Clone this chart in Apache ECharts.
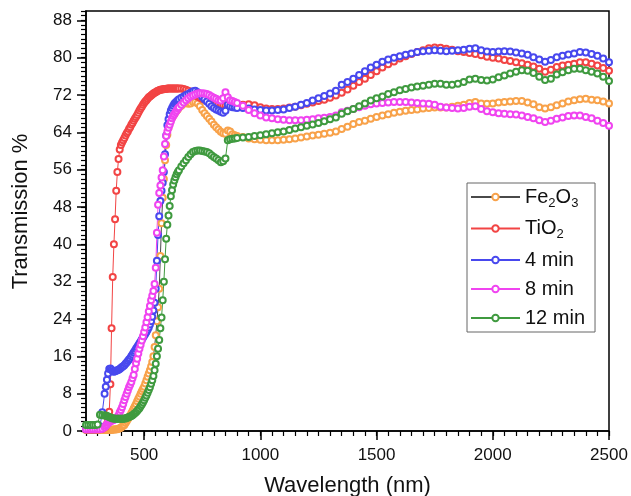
<!DOCTYPE html>
<html><head><meta charset="utf-8">
<script src="https://cdn.jsdelivr.net/npm/echarts@6/dist/echarts.min.js"></script>
<style>html,body{margin:0;padding:0;background:#fff}#c{width:631px;height:496px}</style>
</head><body><div id="c"></div>
<script>
const wavelength = [
250,260,270,280,290,300,310,320,330,
335,340,345,350,355,360,365,370,375,380,385,390,395,400,405,410,415,420,425,430,435,440,445,450,455,460,465,470,475,480,485,490,495,500,505,510,515,520,525,530,535,540,545,550,555,560,565,570,575,580,585,590,595,600,605,610,615,620,625,630,635,640,645,650,
660,670,680,690,700,710,720,730,740,750,760,770,780,790,800,810,820,830,840,850,860,870,880,890,900,
925,950,975,1000,1025,1050,1075,1100,1125,1150,1175,1200,1225,1250,1275,1300,1325,1350,1375,1400,1425,1450,1475,1500,1525,1550,1575,1600,1625,1650,1675,1700,1725,1750,1775,1800,1825,1850,1875,1900,1925,1950,1975,2000,2025,2050,2075,2100,2125,2150,2175,2200,2225,2250,2275,2300,2325,2350,2375,2400,2425,2450,2475,2500
];
const fe2o3 = [
0.2,0.2,0.2,0.2,0.2,0.2,0.2,0.2,0.2,
0.2,0.2,0.2,0.2,0.2,0.2,0.3,0.3,0.3,0.4,
0.4,0.5,0.6,0.7,0.9,1.1,1.3,1.7,2.1,2.5,
2.9,3.3,3.8,4.3,4.8,5.3,5.8,6.4,6.9,7.4,
8.0,8.5,9.0,9.5,10.2,10.9,11.6,12.3,13.0,13.8,
14.8,16.0,18.0,20.5,23.5,26.5,30.5,37.5,44.5,50.0,
54.0,58.0,61.3,63.5,65.0,65.9,66.6,67.1,67.5,67.9,
68.3,68.6,68.9,69.3,
69.7,70.1,70.5,70.1,70.2,70.5,70.5,70.2,69.6,68.8,68.1,67.5,66.9,66.3,65.6,65.1,64.6,64.1,63.8,63.7,64.4,64.2,63.6,63.4,63.2,
63.0,62.7,62.5,62.4,62.3,62.3,62.3,62.4,
62.5,62.7,62.9,63.1,63.3,63.5,63.7,63.9,
64.2,64.7,65.2,65.8,66.2,66.5,66.9,67.3,
67.6,67.9,68.2,68.4,68.6,68.8,68.9,69.1,
69.2,69.3,69.3,69.3,69.5,69.7,69.9,70.3,
70.5,70.2,70.1,70.2,70.4,70.5,70.6,70.7,
70.7,70.4,70.0,69.4,69.1,69.4,69.8,70.2,
70.6,70.9,71.1,71.2,71.0,70.9,70.6,70.2
];
const tio2 = [
0.3,0.3,0.3,0.3,0.3,0.3,0.4,0.5,0.8,
1.0,1.5,2.5,4.1,10,22,33,40,45.4,51.5,
55.5,58.3,60.3,61.3,61.8,62.3,62.8,63.3,63.8,64.2,
64.7,65.1,65.6,66.0,66.5,66.9,67.3,67.7,68.2,68.7,
69.1,69.5,69.9,70.3,70.6,70.9,71.2,71.5,71.7,71.9,
72.1,72.3,72.5,72.6,72.8,72.9,73.0,73.1,73.2,73.2,
73.3,73.3,73.3,73.4,73.4,73.4,73.4,73.4,73.4,73.4,
73.4,73.4,73.4,73.4,
73.4,73.3,73.1,72.9,72.6,72.3,72.0,71.7,71.4,71.2,71.0,70.8,70.6,70.4,70.2,70.1,70.0,69.9,69.8,69.8,69.8,69.8,69.8,69.8,69.8,
69.9,70.0,69.8,69.4,69.1,69.0,69.0,69.1,
69.3,69.5,69.8,70.1,70.4,70.7,71.0,71.4,
71.9,72.5,73.2,74.0,74.8,75.5,76.3,77.1,
77.9,78.6,79.2,79.8,80.3,80.8,81.2,81.6,
82.0,82.2,82.1,81.9,81.7,81.4,81.2,81.0,
80.8,80.5,80.2,80.0,79.8,79.5,79.3,79.0,
78.8,78.5,78.1,77.6,77.0,77.4,78.0,78.3,
78.5,78.7,79.0,79.0,78.7,78.3,77.8,77.2
];
const min4 = [
0.4,0.4,0.4,0.4,0.4,0.5,1.0,4.0,8.0,
9.5,11.0,12.3,13.3,13.4,13.1,12.8,12.7,12.8,12.9,
13.0,13.1,13.3,13.5,13.7,13.9,14.1,14.4,14.7,15.0,
15.3,15.6,16.0,16.4,16.8,17.2,17.6,18.0,18.4,18.8,
19.2,19.6,20.0,20.4,20.8,21.2,21.7,22.2,22.8,23.5,
24.5,25.8,27.5,30.5,36.5,42.0,46.0,49.3,51.5,53.2,
55.5,59.3,63.3,65.5,66.8,67.9,68.7,69.2,69.7,70.1,
70.4,70.6,70.9,71.1,
71.4,71.7,72.0,72.2,72.5,72.8,72.9,72.6,72.2,71.6,71.1,70.6,70.1,69.6,69.2,68.9,68.7,68.4,68.2,68.6,69.9,69.6,69.4,69.3,69.2,
69.2,69.1,68.9,68.8,68.7,68.7,68.8,68.9,
69.2,69.5,69.9,70.3,70.8,71.3,71.8,72.3,
72.9,74.2,74.8,75.5,76.3,77.1,77.9,78.5,
79.1,79.6,80.0,80.3,80.6,80.9,81.2,81.4,
81.5,81.6,81.5,81.4,81.5,81.6,81.7,81.9,
82.0,81.6,81.3,81.2,81.3,81.4,81.3,81.1,
80.9,80.6,80.1,79.6,79.1,79.5,80.1,80.4,
80.7,80.9,81.2,81.1,80.8,80.4,79.8,79.0
];
const min8 = [
0.4,0.4,0.4,0.4,0.4,0.4,0.4,0.5,0.8,
1.1,1.4,1.7,1.9,2.1,2.2,2.3,2.4,2.5,2.7,
3.0,3.4,4.0,4.5,5.1,5.8,6.6,7.3,8.0,8.7,
9.4,9.9,10.5,11.3,12.0,13.3,14.5,15.5,16.6,17.6,
18.5,19.4,20.3,21.2,22.2,23.3,24.4,25.6,26.8,28.0,
29.0,30.0,31.5,35.0,42.5,48.5,51.0,52.6,54.3,55.9,
58.8,61.5,63.2,64.2,65.0,65.6,66.3,67.0,67.5,67.9,
68.3,68.7,69.1,69.4,
69.9,70.4,70.9,71.3,71.7,71.9,72.1,72.3,72.4,72.4,72.3,72.2,72.0,71.7,71.4,71.2,70.9,70.8,71.3,72.6,71.5,70.9,70.7,70.5,70.3,
69.7,68.8,68.1,67.6,67.2,67.0,66.8,66.7,
66.6,66.6,66.6,66.7,66.8,67.0,67.1,67.3,
67.6,68.3,68.6,69.0,69.4,69.7,70.0,70.2,
70.3,70.4,70.5,70.5,70.5,70.4,70.3,70.2,
70.1,69.9,69.5,69.3,69.2,69.1,69.2,69.5,
69.6,69.0,68.5,68.3,68.1,68.0,67.9,67.8,
67.6,67.3,67.0,66.6,66.2,66.5,66.9,67.2,
67.5,67.6,67.6,67.3,67.0,66.5,66.0,65.4
];
const min12 = [
1.3,1.3,1.3,1.3,1.3,1.4,3.5,3.4,3.3,
3.3,3.2,3.1,3.0,2.9,2.8,2.7,2.7,2.6,2.6,
2.6,2.6,2.6,2.6,2.6,2.6,2.7,2.7,2.8,2.9,
3.0,3.1,3.2,3.4,3.6,3.8,4.0,4.3,4.6,4.9,
5.3,5.7,6.1,6.6,7.1,7.6,8.2,8.8,9.4,10.1,
10.9,11.8,13.0,14.4,16.0,17.6,19.5,22.0,24.3,28.0,
32.0,36.8,41.2,44.2,46.2,48.2,50.3,51.6,52.8,53.7,
54.4,55.0,55.5,55.9,
56.7,57.4,58.0,58.7,59.3,59.8,60.0,60.1,60.1,60.0,59.9,59.8,59.5,59.1,58.7,58.4,58.0,57.6,57.8,58.4,62.3,62.5,62.6,62.7,62.8,
62.9,63.0,63.2,63.4,63.6,63.8,64.0,64.2,
64.5,64.8,65.1,65.4,65.7,66.0,66.4,66.8,
67.2,68.0,68.5,69.0,69.6,70.2,70.8,71.3,
71.7,72.2,72.6,73.0,73.3,73.6,73.8,74.0,
74.2,74.4,74.4,74.2,74.2,74.4,74.8,75.3,
75.5,75.2,75.1,75.3,75.8,76.2,76.6,77.0,
77.3,77.2,76.7,75.9,75.2,75.5,76.4,76.9,
77.3,77.6,77.6,77.3,77.0,76.6,75.9,75.0
];
const seriesNames = ['Fe2O3', 'TiO2', '4 min', '8 min', '12 min'];
const seriesValues = [fe2o3, tio2, min4, min8, min12];
const xMajorTicks = [500, 1000, 1500, 2000, 2500];
const legendLabels = {'Fe2O3': '{n|Fe}{s|2}{n|O}{s|3}', 'TiO2': '{n|TiO}{s|2}'};

const markerColors = ['#F8A24A', '#F24444', '#4848EE', '#F044F0', '#3F9A3F'];
const lineColors = ['#4a4a4a', '#F24444', '#4848EE', '#F044F0', '#3F9A3F'];
const FONT = 'Liberation Sans, Arial, sans-serif';

const chart = echarts.init(document.getElementById('c'), null, {renderer: 'canvas'});
const series = seriesNames.map((name, k) => ({
  name: name,
  type: 'line',
  xAxisIndex: 0,
  yAxisIndex: 0,
  data: wavelength.map((w, i) => [w, seriesValues[k][i]]),
  symbol: 'emptyCircle',
  symbolSize: 6,
  showAllSymbol: true,
  itemStyle: {color: markerColors[k], borderColor: markerColors[k], borderWidth: 0.9},
  lineStyle: {color: lineColors[k], width: 1},
  emphasis: {disabled: true},
  animation: false
}));

const tickStyle = {color: '#000', width: 1.5};
const minorStyle = {color: '#000', width: 1.2};

chart.setOption({
  animation: false,
  backgroundColor: '#fff',
  grid: {left: 86, right: 22, top: 11, bottom: 65, show: true, borderColor: '#000', borderWidth: 1.5,
         containLabel: false, outerBoundsMode: 'none'},
  legend: {
    orient: 'vertical', left: 467, top: 183,
    padding: [4, 10, 4, 3],
    itemWidth: 49, itemHeight: 8, itemGap: 9,
    borderColor: '#666', borderWidth: 1,
    data: seriesNames,
    formatter: name => legendLabels[name] || name,
    textStyle: {
      fontFamily: FONT, fontSize: 20, color: '#111',
      rich: {
        n: {fontFamily: FONT, fontSize: 20, color: '#111'},
        s: {fontFamily: FONT, fontSize: 13, color: '#111', padding: [12, 0, 0, 0]}
      }
    }
  },
  xAxis: [{
    type: 'value', min: 250, max: 2500, interval: 50,
    name: 'Wavelength (nm)', nameLocation: 'middle', nameGap: 44,
    nameTextStyle: {fontFamily: FONT, fontSize: 22, color: '#111'},
    axisLine: {show: true, lineStyle: tickStyle},
    axisTick: {show: true, customValues: xMajorTicks, length: 9, lineStyle: tickStyle},
    axisLabel: {show: true, customValues: xMajorTicks, margin: 16, fontFamily: FONT, fontSize: 17, color: '#111',
                formatter: v => String(v)},
    splitLine: {show: false}
  }, {
    type: 'value', min: 250, max: 2500, interval: 50, position: 'bottom', offset: 0,
    axisLine: {show: false},
    axisTick: {show: true, length: 5, lineStyle: minorStyle},
    axisLabel: {show: false},
    splitLine: {show: false}
  }],
  yAxis: [{
    type: 'value', min: 0, max: 90, interval: 8,
    name: 'Transmission %', nameLocation: 'middle', nameGap: 54,
    nameTextStyle: {fontFamily: FONT, fontSize: 22, color: '#111', padding: [0, 0, 0, 19]},
    axisLine: {show: true, lineStyle: tickStyle},
    axisTick: {show: true, length: 9, lineStyle: tickStyle},
    axisLabel: {margin: 14, fontFamily: FONT, fontSize: 17, color: '#111', showMaxLabel: false,
                formatter: v => String(v)},
    splitLine: {show: false}
  }, {
    type: 'value', min: 0, max: 90, interval: 1, position: 'left', offset: 0,
    axisLine: {show: false},
    axisTick: {show: true, length: 5, lineStyle: minorStyle},
    axisLabel: {show: false},
    splitLine: {show: false}
  }],
  series: series
});
</script></body></html>
